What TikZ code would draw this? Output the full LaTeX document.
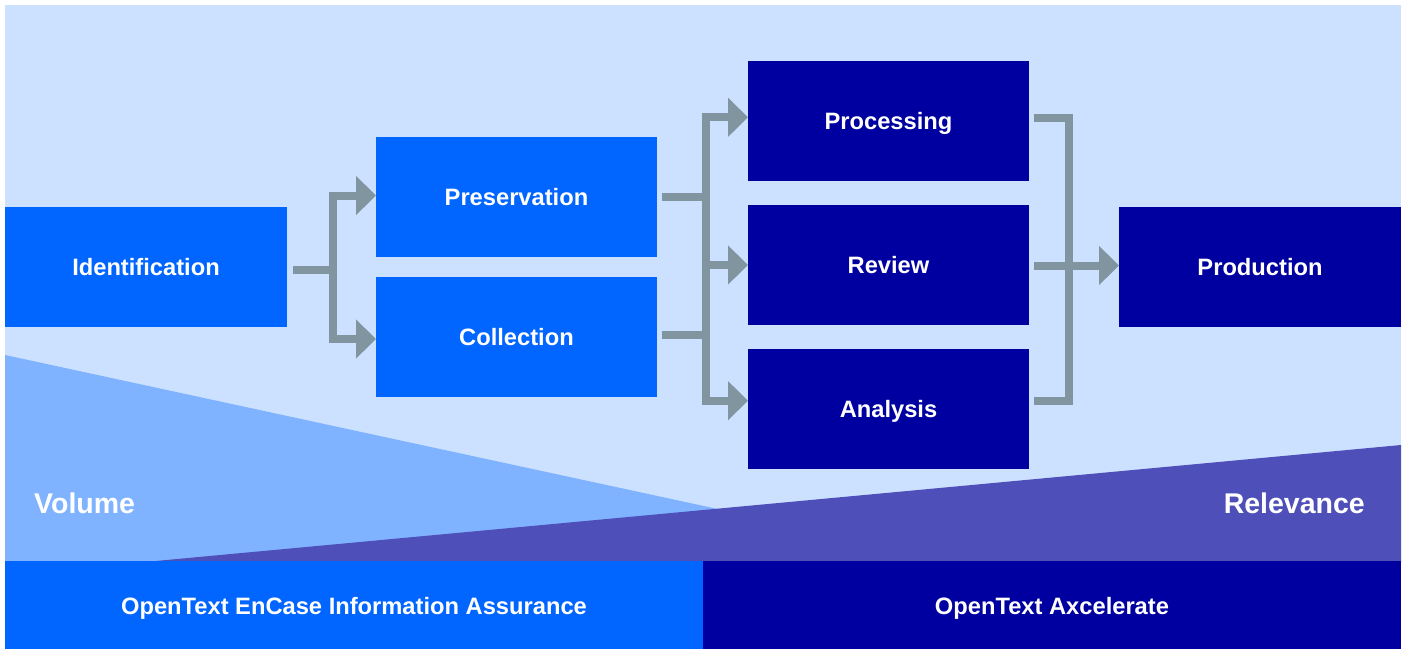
\documentclass[tikz,border=0pt]{standalone}
\usepackage{fontspec}
\setmainfont{Liberation Sans}
\usetikzlibrary{arrows.meta}
\definecolor{bgblue}{HTML}{CCE0FF}
\definecolor{midblue}{HTML}{0066FF}
\definecolor{darkblue}{HTML}{0000A0}
\definecolor{volblue}{HTML}{80B3FF}
\definecolor{relpurple}{HTML}{4F4FBA}
\definecolor{arrowgray}{HTML}{8195A0}
\tikzset{
  basebox/.style={rectangle, inner sep=0pt, outer sep=0pt, text=white,
    font=\fontsize{23.7}{28}\selectfont\bfseries, text height=17pt, text depth=0pt,
    minimum height=120pt},
  lightbox/.style={basebox, fill=midblue},
  darkbox/.style={basebox, fill=darkblue},
  barbox/.style={basebox, minimum width=698pt, minimum height=88pt, text height=19pt},
  biglabel/.style={inner sep=0pt, text=white, font=\fontsize{28.5}{34}\selectfont\bfseries,
    text height=20.5pt, text depth=0pt},
  conn/.style={draw=arrowgray, line width=8pt, line join=miter, line cap=butt},
  headtip/.tip={Triangle[length=20pt, width=38pt, color=arrowgray]}
}
\begin{document}
\begin{tikzpicture}[x=1pt, y=-1pt]
  \useasboundingbox (0,0) rectangle (1405,649);
  % background
  \fill[bgblue] (5,5) rectangle (1401,649);
  % volume and relevance wedges
  \fill[volblue] (5,355) -- (963,562) -- (5,562) -- cycle;
  \fill[relpurple] (145,562) -- (1401,445) -- (1401,562) -- cycle;
  \node[biglabel, anchor=west] (vol) at (34,503) {Volume};
  \node[biglabel, anchor=east] (rel) at (1365,503) {Relevance};
  % bottom bars
  \node[barbox, fill=midblue] (encase) at (354,605) {OpenText EnCase Information Assurance};
  \node[barbox, fill=darkblue] (axc) at (1052,605) {OpenText Axcelerate};
  % process boxes
  \node[lightbox, minimum width=282pt] (ident) at (146,267) {Identification};
  \node[lightbox, minimum width=281pt] (pres) at (516.5,197) {Preservation};
  \node[lightbox, minimum width=281pt] (coll) at (516.5,337) {Collection};
  \node[darkbox, minimum width=281pt] (proc) at (888.5,121) {Processing};
  \node[darkbox, minimum width=281pt] (rev) at (888.5,265) {Review};
  \node[darkbox, minimum width=281pt] (anal) at (888.5,409) {Analysis};
  \node[darkbox, minimum width=282pt] (prod) at (1260,267) {Production};
  % junction coordinates
  \coordinate (j1) at (333,269.5);
  \coordinate (j2) at (705.5,265);
  \coordinate (j3) at (1069,265.5);
  % connector 1
  \draw[conn] ([xshift=6pt]ident.east |- j1) -- (j1);
  \draw[conn, {headtip}-{headtip}] ([yshift=1.5pt]pres.west) -| (j1) |- ([yshift=-2pt]coll.west);
  % connector 2
  \draw[conn] ([xshift=5pt,yshift=-0.3pt]pres.east) -- ([yshift=-0.3pt]pres.east -| j2);
  \draw[conn] ([xshift=5pt,yshift=1.7pt]coll.east) -- ([yshift=1.7pt]coll.east -| j2);
  \draw[conn, {headtip}-{headtip}] ([yshift=3.7pt]proc.west) -| (j2) |- ([yshift=8.3pt]anal.west);
  \draw[conn, -{headtip}] (j2) -- (rev.west);
  % connector 3
  \draw[conn] ([xshift=5pt,yshift=3pt]proc.east) -| (j3) |- ([xshift=5pt,yshift=8.5pt]anal.east);
  \draw[conn, -{headtip}] ([xshift=5pt]rev.east |- j3) -- (j3 -| prod.west);
\end{tikzpicture}
\end{document}
